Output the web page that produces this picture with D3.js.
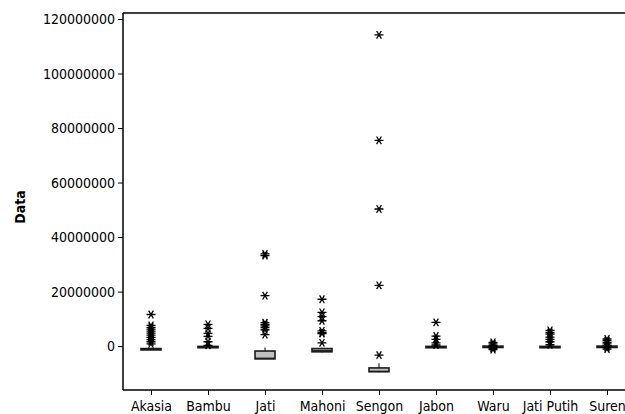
<!DOCTYPE html>
<html>
<head>
<meta charset="utf-8">
<script src="https://cdn.jsdelivr.net/npm/d3@7"></script>
<style>
  html, body { margin: 0; padding: 0; background: #fff; }
  svg { display: block; }
  text { font-family: "DejaVu Sans Condensed", "DejaVu Sans", sans-serif; font-stretch: condensed; fill: #000; }
</style>
</head>
<body>
<svg id="chart" width="625" height="414"></svg>
<script>
// ---- data (values in units) ----
const categories = ["Akasia", "Bambu", "Jati", "Mahoni", "Sengon", "Jabon", "Waru", "Jati Putih", "Suren"];
const M = 1e6;
const whiskerLow  = [-1.5, -0.7, -4.7, -2.3, -9.6, -0.7, -0.6, -0.7, -0.6].map(v => v * M);
const q1          = [-1.4, -0.6, -4.7, -2.1, -9.4, -0.6, -0.5, -0.6, -0.5].map(v => v * M);
const median      = [-1.2, -0.4, -4.4, -1.6, -9.2, -0.4, -0.3, -0.4, -0.3].map(v => v * M);
const q3          = [-0.9, -0.1, -1.8, -0.9, -8.0, -0.1, 0.0, -0.1, 0.0].map(v => v * M);
const whiskerHigh = [-0.6, 0.1, -0.5, -0.6, -6.3, 0.1, 0.2, 0.1, 0.2].map(v => v * M);

const outAkasia    = [11.6, 7.6, 6.9, 6.2, 5.5, 4.8, 4.0, 3.2, 2.4, 1.6, 0.8];
const outBambu     = [8.0, 6.5, 4.7, 3.6, 1.6, 0.3];
const outJati      = [33.8, 33.2, 18.5, 8.6, 8.0, 7.4, 6.8, 6.0, 4.2];
const outMahoni    = [17.2, 12.4, 10.8, 9.3, 5.6, 4.9, 4.6, 1.2];
const outSengon    = [114.2, 75.5, 50.3, 22.3, -3.3];
const outJabon     = [8.7, 3.7, 2.5, 1.2, 0.4];
const outWaru      = [1.4, 0.8, 0.3, -0.3, -0.8, -1.3];
const outJatiPutih = [5.8, 5.0, 4.4, 3.3, 2.5, 1.6, 0.5];
const outSuren     = [2.6, 2.0, 1.4, 0.8, 0.2, -0.5, -1.1];
const outliers = [outAkasia, outBambu, outJati, outMahoni, outSengon, outJabon, outWaru, outJatiPutih, outSuren];

const yTicks = [0, 20000000, 40000000, 60000000, 80000000, 100000000, 120000000];
const yLabel = "Data";

(function () {
  const svg = d3.select("#chart");
  const pl = 123, pt = 13, pb = 390, pr = 640;

  const x = d3.scalePoint().domain(categories).range([151, 607]);
  const y = d3.scaleLinear().domain([-16.1e6, 122.2e6]).range([pb, pt]);

  // top frame line
  svg.append("line").attr("x1", pl).attr("x2", pr).attr("y1", pt).attr("y2", pt)
    .attr("stroke", "#000").attr("stroke-width", 1.5);

  // y axis
  const yAxis = svg.append("g").attr("transform", `translate(${pl},0)`)
    .call(d3.axisLeft(y).tickValues(yTicks).tickFormat(d3.format("d")).tickSizeOuter(0).tickSize(5).tickPadding(3));
  yAxis.attr("font-family", null).attr("font-size", null);
  yAxis.select(".domain").attr("d", `M0,${pt}V${pb}`).attr("stroke-width", 1.5);
  yAxis.selectAll("text").attr("font-size", 14);

  // x axis
  const xAxis = svg.append("g").attr("transform", `translate(0,${pb})`)
    .call(d3.axisBottom(x).tickSizeOuter(0).tickSize(5).tickPadding(6));
  xAxis.attr("font-family", null).attr("font-size", null);
  xAxis.select(".domain").attr("d", `M${pl},0H${pr}`).attr("stroke-width", 1.5);
  xAxis.selectAll("text").attr("font-size", 14);

  // y label
  svg.append("text")
    .attr("transform", `translate(25,207) rotate(-90)`)
    .attr("text-anchor", "middle")
    .attr("font-size", 14)
    .attr("font-weight", "bold")
    .text(yLabel);

  // boxes
  const bw = 20;
  const g = svg.append("g");
  categories.forEach((c, i) => {
    const cx = x(c);
    g.append("line").attr("x1", cx).attr("x2", cx)
      .attr("y1", y(whiskerHigh[i])).attr("y2", y(q3[i]))
      .attr("stroke", "#000").attr("stroke-width", 1);
    g.append("line").attr("x1", cx).attr("x2", cx)
      .attr("y1", y(q1[i])).attr("y2", y(whiskerLow[i]))
      .attr("stroke", "#000").attr("stroke-width", 1);
    g.append("rect")
      .attr("x", cx - bw / 2).attr("width", bw)
      .attr("y", y(q3[i])).attr("height", Math.max(0.5, y(q1[i]) - y(q3[i])))
      .attr("fill", "#c0c0c0").attr("stroke", "#1a1a1a").attr("stroke-width", 1.6);
    g.append("line").attr("x1", cx - bw / 2).attr("x2", cx + bw / 2)
      .attr("y1", y(median[i])).attr("y2", y(median[i]))
      .attr("stroke", "#1a1a1a").attr("stroke-width", 1);
  });

  // asterisk outliers
  const r = 4.5;
  function starPath(px, py) {
    let d = "";
    [0, 58, 122].forEach(a => {
      const rad = a * Math.PI / 180;
      const dx = r * Math.cos(rad), dy = r * Math.sin(rad);
      d += `M${px - dx},${py - dy}L${px + dx},${py + dy}`;
    });
    return d;
  }
  categories.forEach((c, i) => {
    outliers[i].forEach(v => {
      g.append("path").attr("d", starPath(x(c), y(v * M)))
        .attr("stroke", "#000").attr("stroke-width", 1.3).attr("fill", "none");
    });
  });
})();
</script>
</body>
</html>
